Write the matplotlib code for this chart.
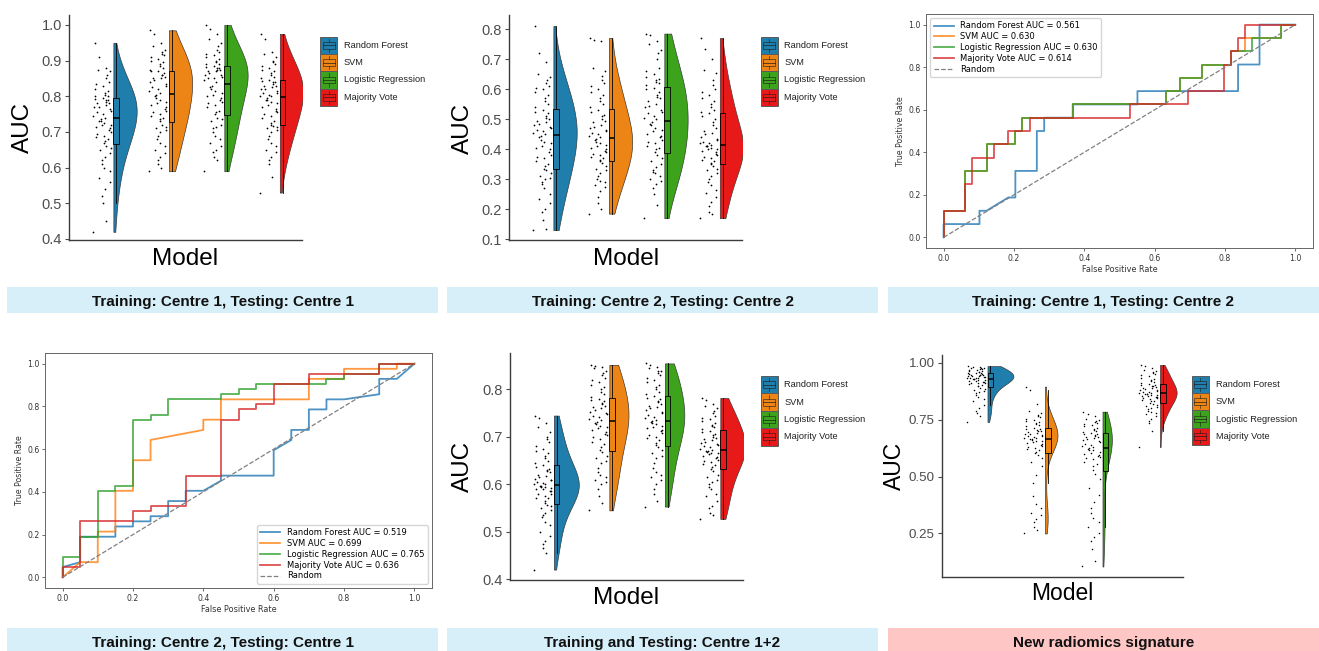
"""Raincloud and ROC panels comparing the four classifiers across centres."""

import matplotlib

matplotlib.use("Agg")
import matplotlib.pyplot as plt
import numpy as np
from matplotlib.lines import Line2D
from matplotlib.patches import Rectangle

FIG_W, FIG_H = 1319, 651

MODELS = ["Random Forest", "SVM", "Logistic Regression", "Majority Vote"]
RAIN_COLORS = ["#1f7eac", "#ec8516", "#3ea31c", "#e81919"]
ROC_COLORS = ["tab:blue", "tab:orange", "tab:green", "tab:red"]
BLUE_BAND = "#d6eff9"
PINK_BAND = "#ffc6c6"
RAIN_FONT = ["Liberation Sans", "DejaVu Sans"]
BW_ADJUST = 1.45

# --- bootstrap AUCs: training centre 1, testing centre 1 ---
C1C1_RF = [0.42, 0.45, 0.50, 0.52, 0.54, 0.56, 0.57, 0.59, 0.60, 0.61, 0.62, 0.63, 0.64, 0.65, 0.655, 0.66,
           0.67, 0.675, 0.68, 0.685, 0.69, 0.695, 0.70, 0.705, 0.71, 0.715, 0.72, 0.72, 0.725, 0.73, 0.732, 0.736,
           0.74, 0.745, 0.75, 0.755, 0.76, 0.765, 0.77, 0.77, 0.775, 0.78, 0.78, 0.785, 0.79, 0.79, 0.792, 0.794,
           0.80, 0.80, 0.805, 0.81, 0.815, 0.82, 0.83, 0.835, 0.84, 0.85, 0.86, 0.87, 0.875, 0.88, 0.91, 0.95]
C1C1_SVM = [0.59, 0.60, 0.61, 0.62, 0.63, 0.64, 0.65, 0.66, 0.67, 0.68, 0.69, 0.70, 0.705, 0.71, 0.715, 0.72,
            0.73, 0.735, 0.74, 0.745, 0.75, 0.755, 0.76, 0.765, 0.77, 0.775, 0.78, 0.785, 0.79, 0.795, 0.80, 0.805,
            0.81, 0.815, 0.82, 0.825, 0.83, 0.835, 0.84, 0.845, 0.85, 0.85, 0.855, 0.86, 0.86, 0.865, 0.87, 0.87,
            0.875, 0.88, 0.885, 0.89, 0.895, 0.90, 0.905, 0.91, 0.915, 0.92, 0.925, 0.93, 0.94, 0.95, 0.975, 0.985]
C1C1_LR = [0.59, 0.62, 0.63, 0.645, 0.65, 0.66, 0.67, 0.68, 0.69, 0.70, 0.71, 0.715, 0.72, 0.73, 0.735, 0.74,
           0.75, 0.755, 0.76, 0.77, 0.775, 0.78, 0.785, 0.79, 0.795, 0.80, 0.805, 0.81, 0.815, 0.82, 0.825, 0.83,
           0.84, 0.845, 0.85, 0.85, 0.855, 0.86, 0.86, 0.865, 0.87, 0.87, 0.875, 0.875, 0.88, 0.88, 0.882, 0.885,
           0.89, 0.89, 0.895, 0.90, 0.905, 0.91, 0.915, 0.92, 0.925, 0.93, 0.94, 0.95, 0.96, 0.975, 0.99, 1.0]
C1C1_MV = [0.53, 0.575, 0.61, 0.62, 0.63, 0.645, 0.65, 0.66, 0.67, 0.68, 0.69, 0.70, 0.705, 0.71, 0.715, 0.718,
           0.72, 0.725, 0.73, 0.74, 0.745, 0.75, 0.755, 0.76, 0.765, 0.77, 0.775, 0.78, 0.785, 0.79, 0.79, 0.795,
           0.80, 0.80, 0.805, 0.81, 0.81, 0.815, 0.82, 0.82, 0.825, 0.83, 0.83, 0.835, 0.84, 0.84, 0.843, 0.846,
           0.85, 0.855, 0.86, 0.865, 0.87, 0.875, 0.88, 0.885, 0.89, 0.895, 0.90, 0.91, 0.92, 0.925, 0.96, 0.975]

# --- training centre 2, testing centre 2 ---
C2C2_RF = [0.13, 0.135, 0.165, 0.19, 0.20, 0.22, 0.235, 0.25, 0.27, 0.285, 0.29, 0.30, 0.305, 0.31, 0.32, 0.33,
           0.335, 0.345, 0.35, 0.36, 0.37, 0.375, 0.38, 0.39, 0.40, 0.405, 0.41, 0.42, 0.425, 0.43, 0.44, 0.445,
           0.45, 0.455, 0.46, 0.465, 0.47, 0.475, 0.48, 0.485, 0.49, 0.495, 0.50, 0.505, 0.51, 0.52, 0.525, 0.53,
           0.54, 0.55, 0.56, 0.57, 0.58, 0.59, 0.60, 0.605, 0.61, 0.62, 0.63, 0.64, 0.65, 0.69, 0.72, 0.81]
C2C2_SVM = [0.185, 0.20, 0.22, 0.24, 0.26, 0.275, 0.28, 0.29, 0.295, 0.30, 0.31, 0.32, 0.33, 0.335, 0.345, 0.355,
            0.36, 0.365, 0.37, 0.375, 0.38, 0.385, 0.39, 0.395, 0.40, 0.405, 0.41, 0.415, 0.42, 0.425, 0.43, 0.435,
            0.44, 0.445, 0.45, 0.455, 0.46, 0.465, 0.47, 0.475, 0.48, 0.49, 0.495, 0.50, 0.51, 0.515, 0.525, 0.53,
            0.54, 0.55, 0.56, 0.57, 0.58, 0.59, 0.60, 0.61, 0.62, 0.63, 0.645, 0.66, 0.67, 0.76, 0.765, 0.77]
C2C2_LR = [0.17, 0.215, 0.25, 0.27, 0.285, 0.295, 0.30, 0.31, 0.32, 0.325, 0.33, 0.34, 0.35, 0.36, 0.37, 0.38,
           0.39, 0.40, 0.405, 0.41, 0.42, 0.425, 0.43, 0.44, 0.445, 0.45, 0.46, 0.465, 0.47, 0.48, 0.485, 0.49,
           0.50, 0.505, 0.51, 0.52, 0.525, 0.53, 0.54, 0.545, 0.55, 0.56, 0.57, 0.575, 0.58, 0.59, 0.60, 0.605,
           0.615, 0.62, 0.625, 0.63, 0.635, 0.64, 0.65, 0.66, 0.67, 0.70, 0.72, 0.73, 0.75, 0.76, 0.78, 0.785]
C2C2_MV = [0.17, 0.185, 0.19, 0.21, 0.225, 0.24, 0.255, 0.265, 0.28, 0.29, 0.30, 0.31, 0.32, 0.33, 0.335, 0.345,
           0.35, 0.355, 0.36, 0.365, 0.37, 0.375, 0.38, 0.385, 0.39, 0.395, 0.40, 0.40, 0.405, 0.41, 0.41, 0.412,
           0.415, 0.42, 0.42, 0.425, 0.43, 0.435, 0.44, 0.45, 0.455, 0.46, 0.47, 0.48, 0.49, 0.50, 0.51, 0.52,
           0.525, 0.53, 0.54, 0.55, 0.56, 0.57, 0.58, 0.59, 0.60, 0.615, 0.63, 0.655, 0.665, 0.70, 0.735, 0.77]

# --- training and testing on centre 1+2 ---
C12_RF = [0.42, 0.455, 0.465, 0.475, 0.48, 0.49, 0.50, 0.515, 0.52, 0.53, 0.535, 0.54, 0.545, 0.55, 0.555, 0.557,
          0.56, 0.565, 0.57, 0.57, 0.575, 0.58, 0.58, 0.585, 0.585, 0.59, 0.59, 0.592, 0.594, 0.595, 0.596, 0.597,
          0.60, 0.60, 0.603, 0.605, 0.608, 0.61, 0.612, 0.615, 0.618, 0.62, 0.625, 0.628, 0.63, 0.633, 0.636, 0.64,
          0.645, 0.65, 0.655, 0.66, 0.665, 0.67, 0.675, 0.68, 0.69, 0.695, 0.70, 0.71, 0.72, 0.73, 0.74, 0.745]
C12_SVM = [0.545, 0.56, 0.575, 0.59, 0.60, 0.605, 0.61, 0.615, 0.62, 0.625, 0.635, 0.645, 0.65, 0.655, 0.66, 0.668,
           0.672, 0.678, 0.685, 0.69, 0.695, 0.70, 0.703, 0.706, 0.71, 0.715, 0.718, 0.72, 0.724, 0.727, 0.73, 0.732,
           0.735, 0.738, 0.741, 0.745, 0.748, 0.75, 0.753, 0.756, 0.76, 0.763, 0.766, 0.77, 0.772, 0.775, 0.778, 0.78,
           0.785, 0.79, 0.795, 0.80, 0.805, 0.81, 0.815, 0.82, 0.825, 0.83, 0.835, 0.84, 0.845, 0.848, 0.85, 0.852]
C12_LR = [0.553, 0.565, 0.58, 0.59, 0.60, 0.61, 0.615, 0.62, 0.625, 0.635, 0.645, 0.655, 0.66, 0.665, 0.672, 0.678,
          0.682, 0.688, 0.693, 0.698, 0.70, 0.705, 0.708, 0.712, 0.715, 0.718, 0.72, 0.724, 0.727, 0.73, 0.732, 0.733,
          0.736, 0.74, 0.743, 0.746, 0.75, 0.753, 0.756, 0.76, 0.763, 0.766, 0.77, 0.773, 0.776, 0.78, 0.783, 0.786,
          0.79, 0.795, 0.80, 0.805, 0.81, 0.815, 0.82, 0.825, 0.83, 0.835, 0.838, 0.84, 0.845, 0.848, 0.852, 0.855]
C12_MV = [0.527, 0.535, 0.54, 0.55, 0.555, 0.565, 0.575, 0.58, 0.59, 0.595, 0.60, 0.605, 0.61, 0.615, 0.62, 0.628,
          0.633, 0.636, 0.64, 0.643, 0.646, 0.649, 0.652, 0.655, 0.658, 0.66, 0.663, 0.665, 0.667, 0.669, 0.67, 0.671,
          0.673, 0.675, 0.678, 0.68, 0.683, 0.685, 0.688, 0.69, 0.693, 0.695, 0.698, 0.70, 0.703, 0.706, 0.71, 0.713,
          0.716, 0.72, 0.723, 0.726, 0.73, 0.733, 0.737, 0.74, 0.745, 0.75, 0.755, 0.76, 0.765, 0.77, 0.778, 0.782]

# --- new radiomics signature ---
NEW_RF = [0.74, 0.765, 0.78, 0.79, 0.80, 0.815, 0.83, 0.84, 0.85, 0.86, 0.865, 0.87, 0.875, 0.88, 0.885, 0.89,
          0.897, 0.90, 0.903, 0.906, 0.909, 0.911, 0.913, 0.915, 0.917, 0.919, 0.921, 0.923, 0.925, 0.927, 0.928, 0.929,
          0.931, 0.932, 0.934, 0.935, 0.937, 0.938, 0.94, 0.941, 0.943, 0.944, 0.945, 0.947, 0.948, 0.95, 0.951, 0.953,
          0.955, 0.957, 0.959, 0.961, 0.963, 0.965, 0.967, 0.969, 0.971, 0.973, 0.975, 0.977, 0.979, 0.981, 0.983, 0.985]
NEW_SVM = [0.25, 0.265, 0.28, 0.30, 0.315, 0.33, 0.34, 0.36, 0.38, 0.415, 0.47, 0.505, 0.545, 0.565, 0.58, 0.595,
           0.605, 0.61, 0.615, 0.62, 0.625, 0.63, 0.635, 0.64, 0.645, 0.648, 0.652, 0.655, 0.658, 0.661, 0.664, 0.666,
           0.668, 0.671, 0.674, 0.677, 0.68, 0.683, 0.686, 0.689, 0.692, 0.695, 0.698, 0.701, 0.704, 0.707, 0.71, 0.714,
           0.72, 0.725, 0.73, 0.735, 0.74, 0.745, 0.75, 0.755, 0.76, 0.765, 0.77, 0.78, 0.79, 0.82, 0.88, 0.895]
NEW_LR = [0.105, 0.13, 0.18, 0.215, 0.235, 0.25, 0.28, 0.30, 0.32, 0.34, 0.36, 0.39, 0.42, 0.45, 0.49, 0.51,
          0.53, 0.545, 0.555, 0.565, 0.575, 0.58, 0.585, 0.59, 0.595, 0.60, 0.605, 0.61, 0.615, 0.618, 0.622, 0.625,
          0.63, 0.635, 0.64, 0.645, 0.65, 0.655, 0.66, 0.665, 0.67, 0.672, 0.675, 0.678, 0.682, 0.685, 0.688, 0.692,
          0.695, 0.70, 0.705, 0.71, 0.715, 0.72, 0.725, 0.73, 0.735, 0.74, 0.745, 0.75, 0.755, 0.765, 0.775, 0.785]
NEW_MV = [0.63, 0.70, 0.735, 0.745, 0.755, 0.765, 0.775, 0.78, 0.785, 0.79, 0.795, 0.80, 0.805, 0.81, 0.815, 0.82,
          0.825, 0.83, 0.833, 0.836, 0.84, 0.843, 0.846, 0.849, 0.851, 0.853, 0.855, 0.857, 0.859, 0.861, 0.863, 0.864,
          0.866, 0.868, 0.87, 0.873, 0.876, 0.879, 0.882, 0.885, 0.888, 0.891, 0.894, 0.897, 0.90, 0.902, 0.904, 0.905,
          0.91, 0.915, 0.92, 0.925, 0.93, 0.935, 0.94, 0.945, 0.95, 0.955, 0.96, 0.965, 0.97, 0.975, 0.985, 0.99]

# --- ROC curves: training centre 1, testing centre 2 ---
C1C2_AUC = [0.561, 0.630, 0.630, 0.614]
C1C2_RF_FPR = [0, 0, 0.102, 0.102, 0.122, 0.184, 0.204, 0.204, 0.265, 0.265, 0.286, 0.286, 0.367, 0.367,
               0.551, 0.551, 0.837, 0.837, 0.898, 0.898, 1.0]
C1C2_RF_TPR = [0, 0.0625, 0.0625, 0.125, 0.125, 0.1875, 0.1875, 0.3125, 0.3125, 0.5, 0.5, 0.5625, 0.5625, 0.625,
               0.625, 0.6875, 0.6875, 0.8125, 0.8125, 1.0, 1.0]
C1C2_SVM_FPR = [0, 0, 0.061, 0.061, 0.122, 0.122, 0.204, 0.204, 0.224, 0.224, 0.367, 0.367, 0.633, 0.633,
                0.673, 0.673, 0.735, 0.735, 0.816, 0.816, 0.857, 0.857, 0.959, 0.959, 1.0]
C1C2_SVM_TPR = [0, 0.125, 0.125, 0.3125, 0.3125, 0.4375, 0.4375, 0.5, 0.5, 0.5625, 0.5625, 0.625, 0.625, 0.6875,
                0.6875, 0.75, 0.75, 0.8125, 0.8125, 0.875, 0.875, 0.9375, 0.9375, 1.0, 1.0]
C1C2_LR_FPR = [0, 0, 0.061, 0.061, 0.122, 0.122, 0.204, 0.204, 0.224, 0.224, 0.367, 0.367, 0.633, 0.633,
               0.673, 0.673, 0.735, 0.735, 0.816, 0.816, 0.878, 0.878, 0.959, 0.959, 1.0]
C1C2_LR_TPR = [0, 0.125, 0.125, 0.3125, 0.3125, 0.4375, 0.4375, 0.5, 0.5, 0.5625, 0.5625, 0.625, 0.625, 0.6875,
               0.6875, 0.75, 0.75, 0.8125, 0.8125, 0.875, 0.875, 0.9375, 0.9375, 1.0, 1.0]
C1C2_MV_FPR = [0, 0, 0.061, 0.061, 0.082, 0.082, 0.143, 0.143, 0.184, 0.184, 0.245, 0.245, 0.531, 0.531,
               0.694, 0.694, 0.796, 0.796, 0.816, 0.816, 0.837, 0.837, 0.857, 0.857, 1.0]
C1C2_MV_TPR = [0, 0.125, 0.125, 0.25, 0.25, 0.375, 0.375, 0.4375, 0.4375, 0.5, 0.5, 0.5625, 0.5625, 0.625,
               0.625, 0.6875, 0.6875, 0.8125, 0.8125, 0.875, 0.875, 0.9375, 0.9375, 1.0, 1.0]

# --- ROC curves: training centre 2, testing centre 1 ---
C2C1_AUC = [0.519, 0.699, 0.765, 0.636]
C2C1_RF_FPR = [0, 0, 0.05, 0.05, 0.15, 0.15, 0.2, 0.2, 0.25, 0.25, 0.3, 0.3, 0.35, 0.35, 0.4, 0.45, 0.45,
               0.6, 0.6, 0.65, 0.65, 0.7, 0.7, 0.75, 0.75, 0.8, 0.9, 0.9, 0.95, 1.0]
C2C1_RF_TPR = [0, 0.048, 0.071, 0.19, 0.19, 0.238, 0.238, 0.262, 0.262, 0.286, 0.286, 0.357, 0.357, 0.405,
               0.405, 0.452, 0.476, 0.476, 0.595, 0.643, 0.69, 0.69, 0.786, 0.786, 0.833, 0.833, 0.857, 0.929,
               0.929, 1.0]
C2C1_SVM_FPR = [0, 0.05, 0.1, 0.1, 0.15, 0.15, 0.2, 0.2, 0.25, 0.25, 0.4, 0.4, 0.45, 0.45, 0.7, 0.7, 0.8, 0.8,
                0.95, 0.95, 1.0]
C2C1_SVM_TPR = [0, 0.071, 0.071, 0.214, 0.214, 0.405, 0.405, 0.548, 0.548, 0.643, 0.69, 0.738, 0.738, 0.833,
                0.833, 0.929, 0.929, 0.976, 0.976, 1.0, 1.0]
C2C1_LR_FPR = [0, 0, 0.05, 0.05, 0.1, 0.1, 0.15, 0.15, 0.2, 0.2, 0.25, 0.25, 0.3, 0.3, 0.45, 0.45, 0.5, 0.5,
               0.55, 0.55, 0.75, 0.75, 0.8, 0.8, 0.9, 0.9, 1.0]
C2C1_LR_TPR = [0, 0.095, 0.095, 0.19, 0.19, 0.405, 0.405, 0.429, 0.429, 0.738, 0.738, 0.762, 0.762, 0.833,
               0.833, 0.857, 0.857, 0.881, 0.881, 0.905, 0.905, 0.929, 0.929, 0.952, 0.952, 1.0, 1.0]
C2C1_MV_FPR = [0, 0, 0.05, 0.05, 0.2, 0.2, 0.25, 0.25, 0.35, 0.35, 0.45, 0.45, 0.5, 0.5, 0.55, 0.55, 0.6, 0.6,
               0.7, 0.7, 0.9, 0.9, 1.0]
C2C1_MV_TPR = [0, 0.048, 0.048, 0.262, 0.262, 0.31, 0.31, 0.333, 0.333, 0.476, 0.476, 0.738, 0.738, 0.786,
               0.786, 0.81, 0.81, 0.905, 0.905, 0.952, 0.952, 1.0, 1.0]


def px_rect(left, top, right, bottom):
    """Pixel box (origin top-left) -> figure fraction [x, y, w, h]."""
    return [left / FIG_W, 1 - bottom / FIG_H, (right - left) / FIG_W, (bottom - top) / FIG_H]


def fx(px):
    return px / FIG_W


def fy(py):
    return 1 - py / FIG_H


def kde(values, grid, adjust=BW_ADJUST):
    """Gaussian KDE with R's bw.nrd0 bandwidth."""
    v = np.asarray(values, dtype=float)
    n = len(v)
    iqr = np.subtract(*np.percentile(v, [75, 25]))
    bw = adjust * 0.9 * min(v.std(ddof=1), iqr / 1.34) * n ** -0.2
    z = (grid[:, None] - v[None, :]) / bw
    return np.exp(-0.5 * z ** 2).sum(axis=1) / (n * bw * np.sqrt(2 * np.pi))


def draw_raincloud(ax, groups, ylim, yticks, fmt, tick_fs, scale="area", dot_size=1.6):
    grids = [np.linspace(min(g), max(g), 512) for g in groups]
    dens = [kde(g, grid) for g, grid in zip(groups, grids)]
    dmax = max(d.max() for d in dens)

    for i, (vals, col) in enumerate(zip(groups, RAIN_COLORS)):
        x0 = i + 1
        v = np.asarray(vals)
        k = np.arange(len(v))
        jitter = ((k * 0.618034 + k * k * 0.0731) % 1 - 0.5) * 0.32
        ax.scatter(x0 + jitter, v, s=dot_size, c="black", linewidths=0, zorder=2)
        if scale == "width":
            width = dens[i] / dens[i].max() * 0.42
        else:
            width = dens[i] / dmax * 0.45
        ax.fill_betweenx(grids[i], x0 + 0.2, x0 + 0.2 + width, facecolor=col,
                         edgecolor="#3a3a3a", linewidth=0.5, zorder=3)

    ax.boxplot(groups, positions=np.arange(1, 5) + 0.25, widths=0.1, showfliers=False,
               showcaps=False, patch_artist=True, manage_ticks=False,
               boxprops=dict(linewidth=0.6, edgecolor="black"),
               medianprops=dict(color="black", linewidth=1.1),
               whiskerprops=dict(color="black", linewidth=0.6), zorder=4)
    for patch, col in zip(ax.patches, RAIN_COLORS):
        patch.set_facecolor(col)

    ax.set_xlim(0.4, 4.6)
    ax.set_ylim(*ylim)
    ax.set_xticks([])
    ax.set_yticks(yticks)
    ax.set_yticklabels([fmt.format(t) for t in yticks], family=RAIN_FONT,
                       fontsize=tick_fs, color="#4d4d4d")
    ax.tick_params(axis="y", length=3, width=0.8, color="#4d4d4d", pad=2)
    for side in ("top", "right"):
        ax.spines[side].set_visible(False)
    for side in ("left", "bottom"):
        ax.spines[side].set_color("#3c3c3c")
        ax.spines[side].set_linewidth(1.0)


def draw_key_legend(fig, left, top, text_x):
    size = 17.4
    for i, (name, col) in enumerate(zip(MODELS, RAIN_COLORS)):
        y0 = top + i * size
        fig.add_artist(Rectangle((fx(left), fy(y0 + size)), size / FIG_W, size / FIG_H,
                                 transform=fig.transFigure, facecolor=col,
                                 edgecolor="#5a5a5a", linewidth=0.7))
        bx0, bx1 = left + 0.15 * size, left + 0.85 * size
        by0, by1 = y0 + 0.3 * size, y0 + 0.7 * size
        fig.add_artist(Rectangle((fx(bx0), fy(by1)), (bx1 - bx0) / FIG_W, (by1 - by0) / FIG_H,
                                 transform=fig.transFigure, facecolor="none",
                                 edgecolor="#1a1a1a", linewidth=0.5, alpha=0.8))
        cx = left + size / 2
        for ya, yb in ((y0 + 0.12 * size, by0), (by1, y0 + 0.88 * size)):
            fig.add_artist(Line2D([fx(cx), fx(cx)], [fy(ya), fy(yb)], transform=fig.transFigure,
                                  color="#1a1a1a", linewidth=0.5, alpha=0.8))
        fig.add_artist(Line2D([fx(bx0), fx(bx1)], [fy(y0 + size / 2)] * 2, transform=fig.transFigure,
                              color="#1a1a1a", linewidth=0.6, alpha=0.8))
        fig.text(fx(text_x), fy(y0 + size / 2), name, family=RAIN_FONT, fontsize=6.7,
                 color="#222222", ha="left", va="center")


def draw_roc(ax, fprs, tprs, aucs, loc):
    for name, fpr, tpr, auc, col in zip(MODELS, fprs, tprs, aucs, ROC_COLORS):
        ax.plot(fpr, tpr, color=col, linewidth=1.3, alpha=0.8, label=f"{name} AUC = {auc:.3f}")
    ax.plot([0, 1], [0, 1], linestyle="--", color="gray", linewidth=0.9, label="Random")
    ax.set_xlim(-0.05, 1.05)
    ax.set_ylim(-0.05, 1.05)
    ticks = [0.0, 0.2, 0.4, 0.6, 0.8, 1.0]
    ax.set_xticks(ticks)
    ax.set_yticks(ticks)
    ax.tick_params(labelsize=5.6, length=2, width=0.5, pad=2, colors="#333333")
    ax.set_xlabel("False Positive Rate", fontsize=5.9, labelpad=1.5, color="#333333")
    ax.set_ylabel("True Positive Rate", fontsize=5.6, labelpad=2, color="#333333")
    for sp in ax.spines.values():
        sp.set_color("#666666")
        sp.set_linewidth(0.7)
    ax.legend(loc=loc, fontsize=6, labelspacing=0.22, handlelength=2.4, borderpad=0.4,
              handletextpad=0.8)


def caption(fig, left, top, right, bottom, text, color, baseline):
    fig.add_artist(Rectangle((fx(left), fy(bottom)), (right - left) / FIG_W, (bottom - top) / FIG_H,
                             transform=fig.transFigure, facecolor=color, edgecolor="none"))
    fig.text(fx((left + right) / 2), fy(baseline), text, family=RAIN_FONT, fontsize=11,
             fontweight="bold", ha="center", va="baseline", color="#111111")


def axis_titles(fig, auc_xy, model_xy, size):
    fig.text(fx(auc_xy[0]), fy(auc_xy[1]), "AUC", family=RAIN_FONT, fontsize=size,
             rotation=90, ha="center", va="center")
    fig.text(fx(model_xy[0]), fy(model_xy[1]), "Model", family=RAIN_FONT, fontsize=size,
             ha="center", va="baseline")


def main() -> None:
    fig = plt.figure(figsize=(FIG_W / 100, FIG_H / 100), dpi=100)

    # top row
    ax1 = fig.add_axes(px_rect(69, 15, 302, 240))
    draw_raincloud(ax1, [C1C1_RF, C1C1_SVM, C1C1_LR, C1C1_MV], (0.397, 1.028),
                   [0.4, 0.5, 0.6, 0.7, 0.8, 0.9, 1.0], "{:.1f}", 10.5, scale="width")
    axis_titles(fig, (23, 127), (185.5, 265), 17.5)
    draw_key_legend(fig, 320, 36.5, 344)

    ax2 = fig.add_axes(px_rect(509, 15, 742, 240))
    draw_raincloud(ax2, [C2C2_RF, C2C2_SVM, C2C2_LR, C2C2_MV], (0.097, 0.847),
                   [0.1, 0.2, 0.3, 0.4, 0.5, 0.6, 0.7, 0.8], "{:.1f}", 10.5, scale="width")
    axis_titles(fig, (463, 128), (626.5, 265), 17.5)
    draw_key_legend(fig, 760.5, 36.5, 784.5)

    ax3 = fig.add_axes(px_rect(926, 14, 1313, 248))
    draw_roc(ax3, [C1C2_RF_FPR, C1C2_SVM_FPR, C1C2_LR_FPR, C1C2_MV_FPR],
             [C1C2_RF_TPR, C1C2_SVM_TPR, C1C2_LR_TPR, C1C2_MV_TPR], C1C2_AUC, "upper left")

    # bottom row
    ax4 = fig.add_axes(px_rect(45, 353, 432, 588))
    draw_roc(ax4, [C2C1_RF_FPR, C2C1_SVM_FPR, C2C1_LR_FPR, C2C1_MV_FPR],
             [C2C1_RF_TPR, C2C1_SVM_TPR, C2C1_LR_TPR, C2C1_MV_TPR], C2C1_AUC, "lower right")

    ax5 = fig.add_axes(px_rect(509.5, 353, 742.5, 580))
    draw_raincloud(ax5, [C12_RF, C12_SVM, C12_LR, C12_MV], (0.398, 0.877),
                   [0.4, 0.5, 0.6, 0.7, 0.8], "{:.1f}", 10.5)
    axis_titles(fig, (463, 466.5), (626.5, 604), 17.5)
    draw_key_legend(fig, 760.5, 376, 784.5)

    ax6 = fig.add_axes(px_rect(941.5, 355, 1183, 576.5))
    draw_raincloud(ax6, [NEW_RF, NEW_SVM, NEW_LR, NEW_MV], (0.061, 1.034),
                   [0.25, 0.50, 0.75, 1.00], "{:.2f}", 9.6, dot_size=1.2)
    axis_titles(fig, (894, 466), (1062.5, 600.5), 16.5)
    draw_key_legend(fig, 1191.5, 375.5, 1215.5)

    # caption bands
    caption(fig, 7, 287, 438, 313, "Training: Centre 1, Testing: Centre 1", BLUE_BAND, 306)
    caption(fig, 447, 287, 878, 313, "Training: Centre 2, Testing: Centre 2", BLUE_BAND, 306)
    caption(fig, 888, 287, 1319, 313, "Training: Centre 1, Testing: Centre 2", BLUE_BAND, 306)
    caption(fig, 7, 628, 438, 651, "Training: Centre 2, Testing: Centre 1", BLUE_BAND, 646.5)
    caption(fig, 447, 628, 878, 651, "Training and Testing: Centre 1+2", BLUE_BAND, 646.5)
    caption(fig, 888, 628, 1319, 651, "New radiomics signature", PINK_BAND, 646.5)

    fig.savefig("out.png", dpi=100, facecolor="white")


if __name__ == "__main__":
    main()
